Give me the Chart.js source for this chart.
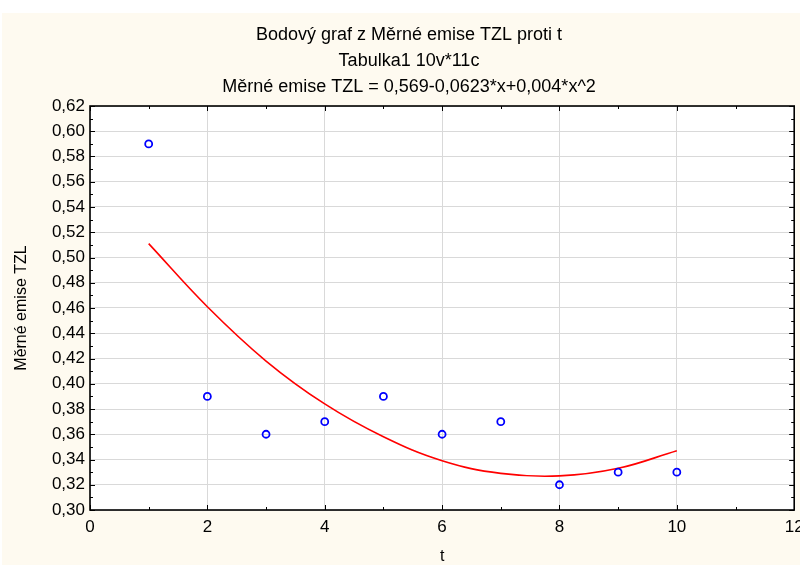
<!DOCTYPE html>
<html>
<head>
<meta charset="utf-8">
<script src="https://cdn.jsdelivr.net/npm/chart.js@4.4.1/dist/chart.umd.min.js"></script>
<style>
    html, body { margin: 0; padding: 0; background: #fff; }
</style>
</head>
<body>
<canvas id="chart" width="800" height="565"></canvas>
<script>
// ── Données ──────────────────────────────────────────────────────────
const tValues   = [1, 2, 3, 4, 5, 6, 7, 8, 9, 10]
const emise     = [0.59, 0.39, 0.36, 0.37, 0.39, 0.36, 0.37, 0.32, 0.33, 0.33]
// courbe de régression
const fitT      = [1, 2, 3, 4, 5, 6, 7, 8, 9, 10]
const fitValues = [0.511, 0.461, 0.418, 0.384, 0.358, 0.339, 0.329, 0.327, 0.333, 0.347]
const titleLines = [
    'Bodový graf z Měrné emise TZL proti t',
    'Tabulka1 10v*11c',
    'Měrné emise TZL = 0,569-0,0623*x+0,004*x^2',
]
const xTitle = 't'
const yTitle = 'Měrné emise TZL'

const font = 'Arial, "Liberation Sans", sans-serif'

// ── Fond, titre, cadre et petites graduations ────────────────────────
const frame = {
    id: 'frame',
    beforeDraw(chart) {
        const { ctx, chartArea: a } = chart
        ctx.save()
        ctx.fillStyle = '#fefaf0'
        ctx.fillRect(2, 13, 798, 552)
        ctx.fillStyle = '#ffffff'
        ctx.fillRect(a.left, a.top, a.right - a.left, a.bottom - a.top)

        // titre sur trois lignes (centré comme dans l'original)
        ctx.fillStyle = '#000'
        ctx.font = '18px ' + font
        ctx.textAlign = 'center'
        ctx.textBaseline = 'middle'
        titleLines.forEach((line, i) => ctx.fillText(line, 409, 35 + i * 26))
        ctx.restore()
    },
    afterDraw(chart) {
        const { ctx, chartArea: a, scales: { x, y } } = chart
        ctx.save()
        ctx.strokeStyle = '#000'
        ctx.lineWidth = 1
        ctx.beginPath()
        for (let i = 0; i <= 12; i++) {
            const px = Math.round(x.getPixelForValue(i)) + 0.5
            const len = i % 2 ? 3 : 5
            ctx.moveTo(px, a.bottom); ctx.lineTo(px, a.bottom - len)
            ctx.moveTo(px, a.top);    ctx.lineTo(px, a.top + len)
        }
        for (let i = 0; i <= 32; i++) {
            const py = Math.round(y.getPixelForValue(0.30 + i * 0.01)) + 0.5
            const len = i % 2 ? 3 : 5
            ctx.moveTo(a.left, py);  ctx.lineTo(a.left + len, py)
            ctx.moveTo(a.right, py); ctx.lineTo(a.right - len, py)
        }
        ctx.stroke()
        ctx.lineWidth = 1.6
        ctx.strokeRect(a.left, a.top, a.right - a.left, a.bottom - a.top)
        ctx.restore()
    }
}

new Chart(document.getElementById('chart'), {
    type: 'scatter',
    data: {
        datasets: [
            {
                label: 'Měrné emise TZL',
                data: tValues.map((t, i) => ({ x: t, y: emise[i] })),
                pointStyle: 'circle',
                pointRadius: 3.5,
                pointBorderWidth: 1.8,
                borderColor: '#0000ff',
                backgroundColor: 'rgba(0,0,0,0)',
                order: 1,
            },
            {
                type: 'line',
                label: 'fit',
                data: fitT.map((t, i) => ({ x: t, y: fitValues[i] })),
                borderColor: '#ff0000',
                borderWidth: 1.6,
                pointRadius: 0,
                tension: 0.4,
                fill: false,
                order: 2,
            },
        ]
    },
    options: {
        responsive: false,
        devicePixelRatio: 1,
        animation: false,
        layout: { padding: { top: 106, left: 2, right: 4, bottom: 0 } },
        plugins: {
            legend: { display: false },
            tooltip: { enabled: false },
            title: { display: false },
        },
        scales: {
            x: {
                type: 'linear',
                min: 0, max: 12,
                ticks: { stepSize: 2, color: '#000', padding: 7, font: { family: font, size: 17 } },
                grid: { color: '#d9d9d9', drawTicks: false },
                border: { display: false },
                title: { display: true, text: xTitle, color: '#000', padding: 0, font: { family: font, size: 16, lineHeight: 1 } },
                afterFit(s) { s.height = 55; s.paddingRight = 0 },
            },
            y: {
                min: 0.30, max: 0.62,
                ticks: {
                    stepSize: 0.02, color: '#000', padding: 5,
                    font: { family: font, size: 17 },
                    callback: v => v.toFixed(2).replace('.', ','),
                },
                grid: { color: '#d9d9d9', drawTicks: false },
                border: { display: false },
                title: { display: true, text: yTitle, color: '#000', padding: { top: 10, bottom: 0 }, font: { family: font, size: 16 } },
                afterFit(s) { s.width = 88 },
            },
        },
    },
    plugins: [frame],
})
</script>
</body>
</html>
